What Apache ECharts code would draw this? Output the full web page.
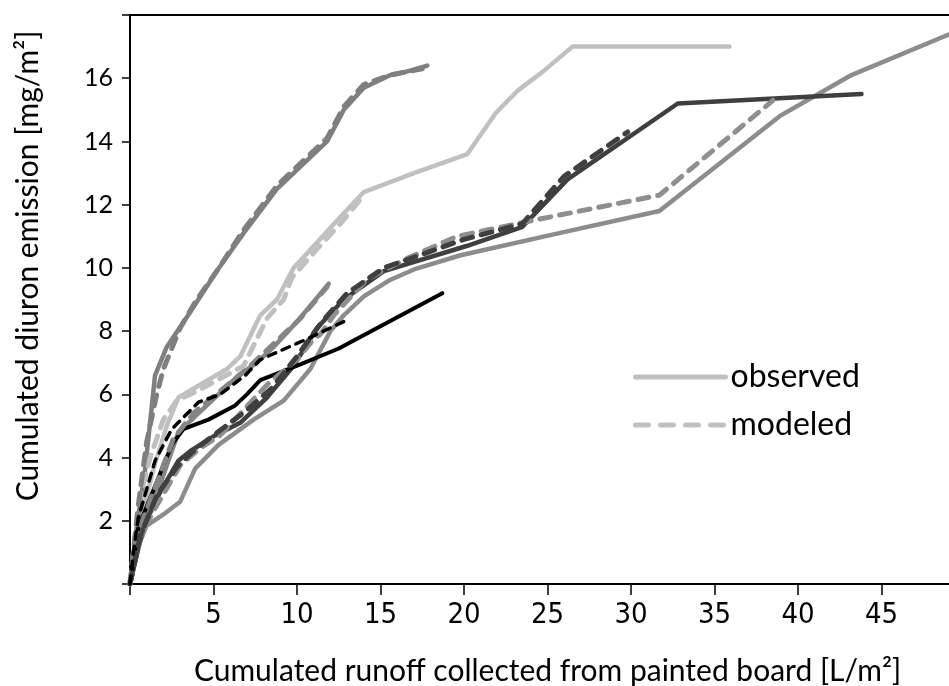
<!DOCTYPE html>
<html>
<head>
<meta charset="utf-8">
<script src="https://cdn.jsdelivr.net/npm/echarts@6/dist/echarts.min.js"></script>
<style>
  html, body { margin: 0; padding: 0; background: #fff; }
  #chart { width: 949px; height: 686px; }
</style>
</head>
<body>
<div id="chart"></div>
<script>
// Cumulated runoff [L/m²] vs cumulated diuron emission [mg/m²], one pair (observed / modeled) per board.
const boardA_observed = [[0,0],[0.4,1.8],[0.9,3.6],[1.5,6.6],[2.2,7.5],[3.6,8.6],[5.2,9.9],[6.8,11.1],[8.8,12.5],[11.8,14.0],[12.8,15.0],[14,15.7],[15.6,16.1],[16.5,16.2],[17.8,16.4]];
const boardA_modeled  = [[0,0],[0.3,1.5],[0.5,2.5],[1.0,4.5],[1.6,6.0],[2.0,6.8],[3.0,8.1],[4.0,9.0],[5.2,9.9],[6.8,11.2],[8.8,12.6],[11.8,14.1],[12.8,15.1],[14,15.8],[15.6,16.1],[17.5,16.3]];

const boardB_observed = [[0,0],[0.6,2.0],[1.5,3.8],[2.2,5.0],[2.9,5.9],[4.5,6.4],[5.8,6.8],[6.6,7.2],[7.8,8.5],[8.8,9.0],[9.8,10.0],[11.2,10.8],[12.4,11.5],[14,12.4],[17,13.0],[20.2,13.6],[21.9,14.9],[23.2,15.6],[24.7,16.2],[26.5,17.0],[35.9,17.0]];
const boardB_modeled  = [[0,0],[0.5,2.5],[1.2,4.0],[2.0,5.2],[2.8,5.8],[4.0,6.1],[5.4,6.5],[6.8,6.9],[8.2,8.4],[9.2,9.0],[9.7,9.7],[11.2,10.6],[12.6,11.4],[14,12.3]];

const boardC_observed = [[0,0],[0.8,1.8],[1.8,2.9],[2.9,3.9],[3.6,4.2],[5.1,4.7],[6.6,5.1],[8.2,5.9],[9.8,6.9],[11.2,8.1],[12.8,9.0],[15.2,9.9],[20.2,10.7],[23.5,11.3],[26.2,12.8],[32.8,15.2],[43.8,15.5]];
const boardC_modeled  = [[0,0],[0.6,1.5],[1.6,2.8],[2.8,3.7],[4.0,4.3],[5.5,4.9],[7.0,5.5],[8.5,6.2],[10,7.2],[11.5,8.3],[13,9.2],[15.2,10.0],[20,10.9],[23.5,11.4],[26,12.9],[29.8,14.3]];

const boardD_observed = [[0,0],[0.5,1.2],[1,1.85],[2,2.2],[3,2.6],[3.9,3.65],[5.3,4.4],[7.4,5.2],[9.2,5.8],[10,6.3],[10.8,6.8],[12,8.0],[12.8,8.5],[14,9.1],[15.5,9.6],[17,9.95],[19.8,10.4],[25.7,11.1],[31.7,11.8],[38.9,14.8],[43.2,16.1],[50,17.6]];
const boardD_modeled  = [[0,0],[0.6,1.5],[1.4,2.3],[3,3.75],[4.2,4.3],[5.4,4.7],[8.2,6.3],[10,7.1],[11,7.75],[11.4,7.9],[12.2,8.5],[14.2,9.65],[16.6,10.3],[19.6,11.0],[24.1,11.5],[31.7,12.3],[38.5,15.3]];

const boardE_observed = [[0,0],[0.5,1.8],[1.5,3.1],[2.5,4.4],[3.2,4.9],[3.7,5.0],[4.7,5.2],[6.3,5.65],[7.0,6.0],[7.8,6.45],[10.2,6.95],[12.5,7.45],[18.7,9.2]];
const boardE_modeled  = [[0,0],[0.2,1.0],[0.5,2.1],[1.5,3.9],[2.5,4.9],[4.1,5.75],[5.4,6.0],[6.9,6.6],[7.8,7.1],[10.6,7.75],[12.8,8.3]];

const boardF_observed = [[0,0],[0.8,2.0],[1.9,3.3],[2.9,4.8],[3.9,5.3],[5.3,6.0],[6.5,6.6],[7.6,7.0],[8.6,7.5],[10,8.3],[11.9,9.5]];
const boardF_modeled  = [[0,0],[0.6,1.8],[1.6,3.2],[2.6,4.6],[3.8,5.4],[5.4,6.1],[7.0,6.8],[8.6,7.6],[10.2,8.4],[11.8,9.4]];

const legendNames = ['observed', 'modeled'];
const xTickValues = [5, 10, 15, 20, 25, 30, 35, 40, 45];
const yTickValues = [2, 4, 6, 8, 10, 12, 14, 16];

const FONT = 'Lato, "Open Sans", sans-serif';
const KEY_GREY = '#c0c0c0';
const KEY_DASH = [13, 12];

function curve(name, data, color, width, dashed, dash) {
  return {
    name: name,
    type: 'line',
    data: data,
    symbol: 'none',
    silent: true,
    animation: false,
    itemStyle: { color: color },
    lineStyle: {
      color: color,
      width: width,
      type: dashed ? (dash || [11, 9]) : 'solid',
      cap: 'round',
      join: 'round'
    },
    z: dashed ? 3 : 2
  };
}

const series = [
  curve('B obs', boardB_observed, '#c0c0c0', 4.5, false),
  curve('B mod', boardB_modeled, '#c0c0c0', 5, true),
  curve('D obs', boardD_observed, '#8c8c8c', 4.5, false),
  curve('D mod', boardD_modeled, '#8f8f8f', 5, true),
  curve('F obs', boardF_observed, '#858585', 4.5, false),
  curve('F mod', boardF_modeled, '#858585', 5, true),
  curve('A obs', boardA_observed, '#7f7f7f', 4.5, false),
  curve('A mod', boardA_modeled, '#7f7f7f', 5, true),
  curve('C obs', boardC_observed, '#3f3f3f', 4.5, false),
  curve('C mod', boardC_modeled, '#3f3f3f', 5, true),
  curve('E obs', boardE_observed, '#000000', 4, false),
  curve('E mod', boardE_modeled, '#000000', 3.5, true, [8, 7]),
  // legend keys
  curve(legendNames[0], [], KEY_GREY, 5, false),
  curve(legendNames[1], [], KEY_GREY, 5, true, KEY_DASH)
];

const chart = echarts.init(document.getElementById('chart'), null, { renderer: 'canvas' });
chart.setOption({
  animation: false,
  backgroundColor: '#ffffff',
  grid: {
    left: 130, top: 15, right: -16, bottom: 102,
    outerBoundsMode: 'none',
    containLabel: false,
    show: true, borderColor: '#000', borderWidth: 2, backgroundColor: 'transparent'
  },
  legend: {
    data: [
      { name: legendNames[0], itemStyle: { opacity: 0 },
        lineStyle: { color: KEY_GREY, width: 5, type: 'solid', cap: 'round' } },
      { name: legendNames[1], itemStyle: { opacity: 0 },
        lineStyle: { color: KEY_GREY, width: 5, type: KEY_DASH, cap: 'round' } }
    ],
    orient: 'vertical',
    left: 633,
    top: 361,
    padding: 0,
    itemWidth: 90,
    itemHeight: 14,
    itemGap: 16,
    selectedMode: false,
    textStyle: { fontFamily: FONT, fontSize: 32, color: '#000' }
  },
  xAxis: {
    type: 'value',
    min: 0, max: 50, interval: 5,
    name: 'Cumulated runoff collected from painted board [L/m²]',
    nameLocation: 'middle',
    nameGap: 72,
    nameMoveOverlap: false,
    nameTextStyle: { fontFamily: FONT, fontSize: 30, color: '#000' },
    axisLine: { show: true, onZero: false, lineStyle: { color: '#000', width: 2 } },
    axisTick: { show: true, inside: false, length: 11, lineStyle: { color: '#000', width: 1.5 } },
    axisLabel: {
      margin: 17,
      fontFamily: '"Liberation Sans Narrow", "DejaVu Sans Condensed", sans-serif',
      fontSize: 29, color: '#000',
      formatter: v => (xTickValues.indexOf(v) >= 0 ? String(v) : '')
    },
    splitLine: { show: false }
  },
  yAxis: {
    type: 'value',
    min: 0, max: 18, interval: 2,
    axisLine: { show: true, onZero: false, lineStyle: { color: '#000', width: 2 } },
    axisTick: { show: true, inside: false, length: 8, lineStyle: { color: '#000', width: 1.5 } },
    axisLabel: {
      margin: 17,
      fontFamily: FONT, fontSize: 25, color: '#000',
      formatter: v => (yTickValues.indexOf(v) >= 0 ? String(v) : '')
    },
    splitLine: { show: false }
  },
  graphic: [{
    type: 'text',
    x: 28, y: 266,
    rotation: Math.PI / 2,
    style: {
      text: 'Cumulated diuron emission [mg/m²]',
      fontFamily: FONT, fontSize: 30, fill: '#000',
      align: 'center', verticalAlign: 'middle'
    }
  }],
  series: series
});
</script>
</body>
</html>
